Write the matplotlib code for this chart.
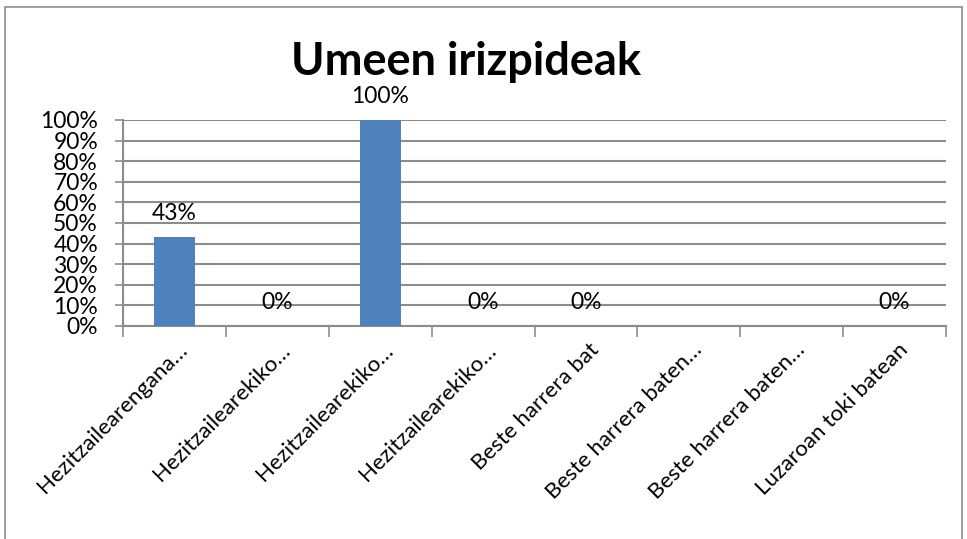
import numpy as np
import matplotlib

matplotlib.use("Agg")
import matplotlib.pyplot as plt
from matplotlib.patches import Rectangle
from matplotlib.transforms import ScaledTranslation

plt.rcParams["font.family"] = ["Lato", "DejaVu Sans"]

categories = [
    "Hezitzailearengana…",
    "Hezitzailearekiko…",
    "Hezitzailearekiko…",
    "Hezitzailearekiko…",
    "Beste harrera bat",
    "Beste harrera baten…",
    "Beste harrera baten…",
    "Luzaroan toki batean",
]
values = [0.43, 0.0, 1.0, 0.0, 0.0, np.nan, np.nan, 0.0]
yticks = np.arange(0, 1.01, 0.1)

bar_color = "#4F81BD"
grid_color = "#8C8C8C"

fig = plt.figure(figsize=(9.67, 5.39), dpi=100)
ax = fig.add_axes([0.1272, 0.3952, 0.8511, 0.3822])

x = np.arange(len(categories))
ax.bar(x, np.nan_to_num(values), width=0.4, color=bar_color, zorder=3)

for xi, v in zip(x, values):
    if np.isnan(v):
        continue
    ax.annotate(f"{v:.0%}", (xi, v), xytext=(0, 17), textcoords="offset points",
                ha="center", va="center", fontsize=16.5, color="black")

ax.set_xlim(-0.5, len(categories) - 0.5)
ax.set_ylim(0, 1)
ax.set_yticks(yticks)
ax.set_yticklabels([f"{t:.0%}" for t in yticks], fontsize=16.5)
ax.yaxis.grid(True, color=grid_color, linewidth=1.5, zorder=0)
ax.set_axisbelow(True)

# category boundary ticks on the x axis
ax.set_xticks(np.arange(-0.5, len(categories), 1.0))
ax.set_xticklabels([])
ax.tick_params(axis="x", length=8, width=1.2, color=grid_color, direction="out")
ax.tick_params(axis="y", length=6, width=1.2, color=grid_color, direction="out", pad=12)

for name in ("top", "right"):
    ax.spines[name].set_visible(False)
for name in ("left", "bottom"):
    ax.spines[name].set_color(grid_color)
    ax.spines[name].set_linewidth(1.5)

offset = ScaledTranslation(10 / 100, -21 / 100, fig.dpi_scale_trans)
for xi, label in zip(x, categories):
    ax.text(xi, 0, label, transform=ax.get_xaxis_transform() + offset,
            rotation=45, rotation_mode="anchor", ha="right", va="center",
            fontsize=16)

fig.text(0.4824, 0.885, "Umeen irizpideak", ha="center", va="center",
         fontsize=32.5, fontweight="bold")

fig.patches.append(Rectangle((5 / 967, -0.05), 957 / 967, 1.05 - 7 / 539,
                             transform=fig.transFigure, fill=False,
                             edgecolor="#8C8C8C", linewidth=1.2))

fig.savefig("out.png", dpi=100)
